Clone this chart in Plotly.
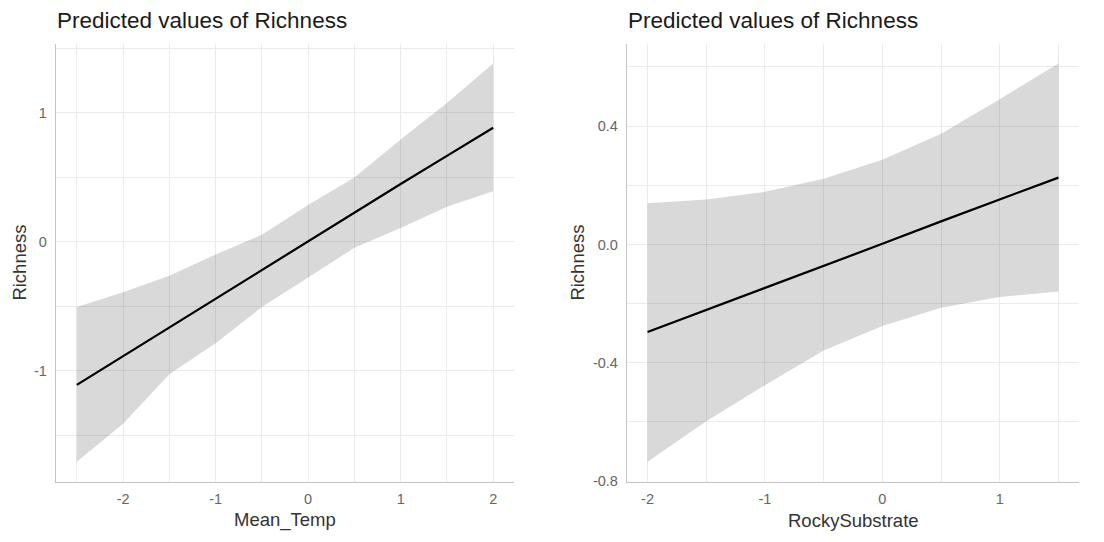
import plotly.graph_objects as go

# ---- data: left panel (Mean_Temp) ----
temp_x = [-2.5, -2.0, -1.5, -1.0, -0.5, 0.0, 0.5, 1.0, 1.5, 2.0]
temp_pred = [-1.108, -0.885, -0.663, -0.44, -0.218, 0.004, 0.226, 0.449, 0.667, 0.885]
temp_upper = [-0.505, -0.39, -0.263, -0.097, 0.056, 0.286, 0.50, 0.793, 1.077, 1.383]
temp_lower = [-1.704, -1.41, -1.026, -0.786, -0.505, -0.276, -0.046, 0.107, 0.273, 0.393]

# ---- data: right panel (RockySubstrate) ----
rock_x = [-2.0, -1.5, -1.0, -0.5, 0.0, 0.5, 1.0, 1.5]
rock_pred = [-0.296, -0.222, -0.148, -0.074, 0.002, 0.078, 0.152, 0.226]
rock_upper = [0.139, 0.152, 0.178, 0.222, 0.286, 0.374, 0.491, 0.612]
rock_lower = [-0.735, -0.598, -0.476, -0.359, -0.276, -0.214, -0.178, -0.159]

# ---- tick labels ----
temp_xticks = [-2, -1, 0, 1, 2]
temp_xtext = ["-2", "-1", "0", "1", "2"]
temp_yticks = [-1, 0, 1]
temp_ytext = ["-1", "0", "1"]
rock_xticks = [-2, -1, 0, 1]
rock_xtext = ["-2", "-1", "0", "1"]
rock_yticks = [-0.8, -0.4, 0.0, 0.4]
rock_ytext = ["-0.8", "-0.4", "0.0", "0.4"]

title_text = "Predicted values of Richness"
FONT = "Liberation Sans, Arial, Helvetica, sans-serif"

# page body has an 8px margin: figure is placed at (8, 8)
OFF = 8
W, H = 1104 - OFF, 542 - OFF


def px(x):
    return (x - OFF) / W


def py(y):
    return 1 - (y - OFF) / H


fig = go.Figure()


def expand(lo, hi, f=0.05):
    d = (hi - lo) * f
    return [lo - d, hi + d]


def add_panel(xs, pred, up, lo, xa, ya):
    fig.add_trace(go.Scatter(
        x=xs + xs[::-1], y=up + lo[::-1], fill="toself",
        fillcolor="rgba(0,0,0,0.15)", line=dict(width=0),
        mode="lines", hoverinfo="skip", showlegend=False,
        xaxis=xa, yaxis=ya))
    fig.add_trace(go.Scatter(
        x=xs, y=pred, mode="lines", line=dict(color="black", width=2.2),
        showlegend=False, xaxis=xa, yaxis=ya))


add_panel(temp_x, temp_pred, temp_upper, temp_lower, "x", "y")
add_panel(rock_x, rock_pred, rock_upper, rock_lower, "x2", "y2")

grid = "#EBEBEB"
axline = "#C4C4C4"
tickfont = dict(family=FONT, size=14.5, color="#666666")

ydom = [py(488), py(44)]
xdom1 = [px(56), px(514)]
xdom2 = [px(627), px(1079)]


def axis_common(vals, text, rng, dom, minor_dt, anchor, standoff):
    return dict(
        domain=dom, range=rng, tickvals=vals, ticktext=text,
        showgrid=True, gridcolor=grid, gridwidth=1.4,
        minor=dict(dtick=minor_dt, tick0=vals[0] + minor_dt, showgrid=True,
                   gridcolor=grid, gridwidth=0.9, ticks=""),
        zeroline=False, showline=True, linecolor=axline, linewidth=1.3,
        ticks="", tickfont=tickfont, anchor=anchor, fixedrange=True,
        ticklabelstandoff=standoff,
    )


fig.update_layout(
    xaxis=axis_common(temp_xticks, temp_xtext,
                      expand(min(temp_x), max(temp_x)), xdom1, 0.5, "y", 4),
    yaxis=axis_common(temp_yticks, temp_ytext,
                      expand(min(temp_lower), max(temp_upper)), ydom, 0.5, "x", 5),
    xaxis2=axis_common(rock_xticks, rock_xtext,
                       expand(min(rock_x), max(rock_x)), xdom2, 0.5, "y2", 4),
    yaxis2=axis_common(rock_yticks, rock_ytext,
                       expand(min(rock_lower), max(rock_upper)), ydom, 0.2, "x2", 5),
)

annots = []
# panel titles
for x0 in (56, 627):
    annots.append(dict(text=title_text, x=px(x0 - 1), y=py(21),
                       xref="paper", yref="paper", xanchor="left",
                       yanchor="middle", showarrow=False,
                       font=dict(family=FONT, size=22.5, color="#1A1A1A")))
# x axis titles
for xd, t in ((xdom1, "Mean_Temp"), (xdom2, "RockySubstrate")):
    annots.append(dict(text=t, x=(xd[0] + xd[1]) / 2, y=py(527),
                       xref="paper", yref="paper", xanchor="center",
                       yanchor="middle", showarrow=False,
                       font=dict(family=FONT, size=18.5, color="#333333")))
# y axis titles
for xp in (20, 578):
    annots.append(dict(text="Richness", x=px(xp), y=(ydom[0] + ydom[1]) / 2,
                       xref="paper", yref="paper", xanchor="center",
                       yanchor="middle", textangle=-90, showarrow=False,
                       font=dict(family=FONT, size=18.5, color="#333333")))

fig.update_layout(
    annotations=annots,
    width=W, height=H,
    margin=dict(l=0, r=0, t=0, b=0),
    plot_bgcolor="white", paper_bgcolor="white",
    showlegend=False,
)

fig.write_html("out.html", config={"displayModeBar": False})
